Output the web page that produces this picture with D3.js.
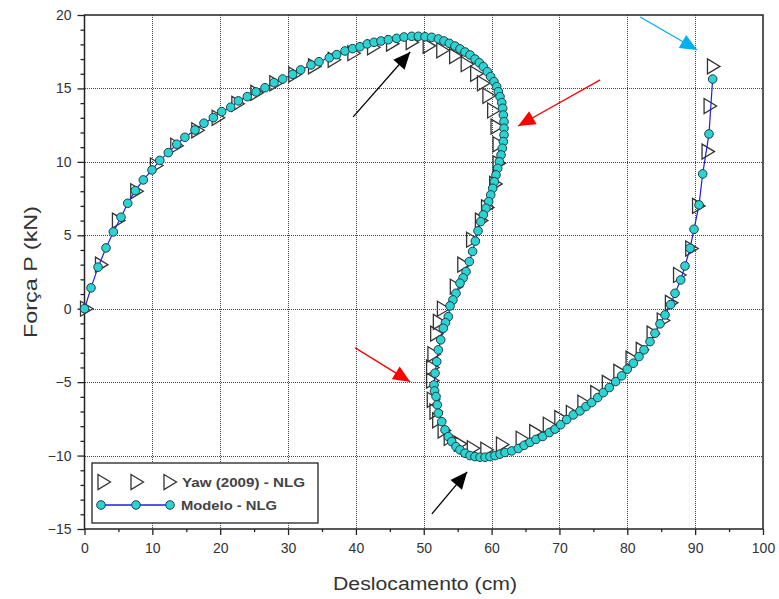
<!DOCTYPE html>
<html>
<head>
<meta charset="utf-8">
<script src="https://cdn.jsdelivr.net/npm/d3@7"></script>
<style>
  body { margin: 0; background: #fff; }
</style>
</head>
<body>
<div id="caja"></div>
<script>
// curva força x deslocamento - Yaw (2009) vs modelo NLG
var xTicks = [0, 10, 20, 30, 40, 50, 60, 70, 80, 90, 100];
var yTicks = [-15, -10, -5, 0, 5, 10, 15, 20];

// Yaw (2009) - NLG  [deslocamento cm, força kN]
var yawX = [0.3, 2.5, 5.0, 7.7, 10.6, 13.6, 16.7, 19.7, 22.6, 25.4, 28.2, 31.0, 33.9, 36.8, 39.7, 42.6, 45.4,
  48.3, 50.8, 52.8, 54.7, 56.4, 57.8, 58.8, 59.6, 60.3, 60.8, 61.1, 61.1, 60.6, 59.4, 58.5, 57.2, 55.9, 54.8, 52.9,
  52.3, 51.9, 51.5, 51.3, 51.3, 51.4, 51.8, 52.2, 53.0, 53.9, 55.4, 57.3, 59.3, 61.6, 64.5, 66.5, 68.5, 70.2, 71.9,
  73.6, 75.5, 77.2, 78.9, 80.7, 82.2, 83.8, 85.3, 86.5, 87.7, 89.5, 90.5, 91.9, 92.2, 92.7];
var yawP = [0, 3.0, 6.0, 8.0, 9.75, 11.1, 12.15, 13.0, 13.95, 14.7, 15.35, 15.95, 16.5, 16.95, 17.4, 17.8, 18.05,
  18.15, 17.9, 17.6, 17.2, 16.65, 16.0, 15.35, 14.5, 13.5, 12.4, 11.2, 9.9, 8.5, 6.9, 6.0, 4.7, 3.0, 1.5, 0.0,
  -0.9, -1.7, -3.1, -4.0, -4.9, -6.2, -7.0, -7.6, -8.3, -8.8, -9.2, -9.5, -9.6, -9.25, -8.85, -8.4, -7.9, -7.45, -7.1,
  -6.4, -5.75, -5.05, -4.3, -3.4, -2.8, -1.7, -0.8, 0.4, 2.3, 4.1, 7.0, 10.7, 13.8, 16.5];

// Modelo - NLG
var modX = [0, 0.96, 2.0, 3.17, 4.25, 5.38, 6.37, 7.49, 8.67, 9.95, 11.1, 12.35, 13.6, 14.8, 16.29, 17.61, 18.99,
  20.22, 21.55, 22.67, 23.99, 25.28, 26.6, 27.93, 29.2, 30.68, 31.86, 33.38, 34.56, 36.08, 37.17, 38.39, 39.52,
  40.6, 41.68, 42.67, 43.7, 44.78, 46.0, 47.1, 48.22, 49.2, 50.18, 51.17, 52.15, 52.98, 53.77, 54.6, 55.34, 56.08,
  56.82, 57.55, 58.19, 58.78, 59.37, 59.86, 60.35, 60.75, 60.99, 61.24, 61.49, 61.63, 61.73, 61.83, 61.83, 61.83,
  61.73, 61.58, 61.39, 61.14, 60.9, 60.65, 60.4, 60.16, 59.87, 59.57, 59.18, 58.78, 58.39, 58.0, 57.6, 57.2, 56.72,
  56.23, 55.8, 55.34, 54.75, 54.3, 53.87, 53.62, 53.2, 52.88, 52.5, 52.15, 51.91, 51.66, 51.51, 51.6, 51.81, 52.0,
  52.15, 52.65, 53.13, 53.62, 54.12, 54.75, 55.34, 56.08, 56.82, 57.55, 58.29, 59.03, 59.76, 60.5, 61.24, 61.98,
  62.96, 63.94, 64.8, 65.66, 66.54, 67.53, 68.51, 69.35, 70.18, 71.07, 72.04, 73.03, 73.91, 74.75, 75.64, 76.46,
  77.35, 78.29, 79.17, 80.0, 80.89, 81.72, 82.46, 83.35, 84.08, 84.82, 85.56, 86.39, 87.03, 87.87, 88.5, 89.25,
  89.83, 90.57, 91.11, 92.04, 92.58];
var modP = [0, 1.42, 2.83, 4.14, 5.23, 6.23, 7.18, 8.04, 8.77, 9.45, 10.1, 10.63, 11.2, 11.67, 12.17, 12.63, 13.01,
  13.42, 13.72, 14.15, 14.44, 14.76, 15.05, 15.39, 15.64, 15.96, 16.26, 16.6, 16.82, 17.09, 17.3, 17.55, 17.71,
  17.84, 18.03, 18.14, 18.23, 18.32, 18.41, 18.5, 18.55, 18.55, 18.52, 18.48, 18.37, 18.23, 18.07, 17.89, 17.69, 17.48,
  17.28, 17.0, 16.75, 16.48, 16.14, 15.8, 15.46, 15.12, 14.78, 14.44, 14.03, 13.65, 13.19, 12.74, 12.29, 11.83,
  11.38, 10.93, 10.47, 10.01, 9.56, 9.11, 8.65, 8.2, 7.75, 7.29, 6.84, 6.39, 5.93, 5.3, 4.6, 3.9, 3.21,
  2.53, 2.1, 1.74, 1.05, 0.6, 0.19, -0.54, -0.95, -1.33, -2.12, -2.8, -3.6, -4.39, -5.19, -5.6, -5.98, -6.55,
  -7.11, -7.69, -8.25, -8.71, -9.05, -9.39, -9.61, -9.84, -10.0, -10.07, -10.11, -10.11, -10.07, -10.0, -9.9, -9.79,
  -9.68, -9.52, -9.3, -9.1, -8.9, -8.7, -8.43, -8.2, -7.9, -7.55, -7.23, -6.96, -6.66, -6.39, -6.05, -5.71,
  -5.37, -4.96, -4.57, -4.12, -3.71, -3.26, -2.8, -2.24, -1.67, -1.03, -0.42, 0.28, 1.05, 1.96, 2.91, 4.12,
  5.41, 7.07, 9.18, 11.9, 15.64];

// setas de anotação (unidades do gráfico)
var setas = [
  {"de": [39.6, 13.06], "para": [48.0, 17.48], "cor": "#000"},
  {"de": [76.0, 15.58], "para": [63.9, 12.44], "cor": "#ff0000"},
  {"de": [39.9, -2.67], "para": [48.0, -4.98], "cor": "#ff0000"},
  {"de": [51.2, -13.97], "para": [56.4, -11.11], "cor": "#000"},
  {"de": [81.9, 19.86], "para": [90.3, 17.62], "cor": "#00b0f0"}
];

var w = 779, h = 599;
var m = {left: 84.5, right: 763, top: 15, bottom: 529};

var svg = d3.select('#caja')
  .append('svg')
  .attr('width', w)
  .attr('height', h)
  .style("background", "#fff");

var x = d3.scaleLinear().domain([0, 100]).range([m.left, m.right]);
var y = d3.scaleLinear().domain([-15, 20]).range([m.bottom, m.top]);
var nx = d => Math.round(x(d)) + 0.5;
var ny = d => Math.round(y(d)) + 0.5;

var fonte = "'Liberation Sans', Arial, sans-serif";

// grade pontilhada
var grade = svg.append("g").attr("shape-rendering", "crispEdges");
grade.selectAll("line.gx")
  .data(xTicks.slice(1, -1))
  .enter().append("line")
  .attr("x1", nx).attr("x2", nx)
  .attr("y1", m.top).attr("y2", m.bottom)
  .attr("stroke", "#444").attr("stroke-width", 1).attr("stroke-dasharray", "1,1");
grade.selectAll("line.gy")
  .data(yTicks.slice(1, -1))
  .enter().append("line")
  .attr("y1", ny).attr("y2", ny)
  .attr("x1", m.left).attr("x2", m.right)
  .attr("stroke", "#444").attr("stroke-width", 1).attr("stroke-dasharray", "1,1");

// eixos
var eixoX = svg.append("g")
  .attr("transform", "translate(0," + m.bottom + ")")
  .call(d3.axisBottom(x).tickValues(xTicks).tickSize(6).tickSizeOuter(0).tickPadding(8));
var eixoXmenor = svg.append("g")
  .attr("transform", "translate(0," + m.bottom + ")")
  .call(d3.axisBottom(x).tickValues(d3.range(5, 100, 10)).tickSize(3).tickSizeOuter(0).tickFormat(""));
var eixoY = svg.append("g")
  .attr("transform", "translate(" + m.left + ",0)")
  .call(d3.axisLeft(y).tickValues(yTicks).tickSize(7).tickSizeOuter(0).tickPadding(6));
var eixoYmenor = svg.append("g")
  .attr("transform", "translate(" + m.left + ",0)")
  .call(d3.axisLeft(y).tickValues(d3.range(-15, 20, 1).filter(v => v % 5 !== 0)).tickSize(4).tickSizeOuter(0).tickFormat(""));

[eixoX, eixoXmenor, eixoY, eixoYmenor].forEach(function(g) {
  g.select(".domain").remove();
  g.selectAll("line").attr("stroke", "#222").attr("stroke-width", 1.3);
  g.selectAll("text").style("font-family", fonte).style("font-size", "14px").attr("fill", "#333");
});

// moldura
svg.append("rect")
  .attr("x", m.left).attr("y", m.top)
  .attr("width", m.right - m.left).attr("height", m.bottom - m.top)
  .attr("fill", "none").attr("stroke", "#222").attr("stroke-width", 1.5);

// titulos
svg.append("text")
  .attr("x", 333).attr("y", 590)
  .attr("textLength", 184).attr("lengthAdjust", "spacingAndGlyphs")
  .style("font-family", fonte).style("font-size", "18px").attr("fill", "#333")
  .text("Deslocamento (cm)");
svg.append("text")
  .attr("transform", "translate(37,338) rotate(-90)")
  .attr("textLength", 132).attr("lengthAdjust", "spacingAndGlyphs")
  .style("font-family", fonte).style("font-size", "18px").attr("fill", "#333")
  .text("Força P (kN)");

// marcador triangulo (aponta para a direita)
var tri = function(cx, cy) {
  return "M" + (cx - 6) + "," + (cy - 7.5) + "L" + (cx + 6.5) + "," + cy + "L" + (cx - 6) + "," + (cy + 7.5) + "Z";
};

var yaw = yawX.map((v, i) => ({x: v, p: yawP[i]}));
var modelo = modX.map((v, i) => ({x: v, p: modP[i]}));

svg.append("g").selectAll("path")
  .data(yaw)
  .enter().append("path")
  .attr("d", d => tri(x(d.x), y(d.p)))
  .attr("fill", "none").attr("stroke", "#333").attr("stroke-width", 1.3);

svg.append("path")
  .datum(modelo)
  .attr("d", d3.line().x(d => x(d.x)).y(d => y(d.p)))
  .attr("fill", "none").attr("stroke", "#2020e0").attr("stroke-width", 1.2);

svg.append("g").selectAll("circle")
  .data(modelo)
  .enter().append("circle")
  .attr("cx", d => x(d.x)).attr("cy", d => y(d.p))
  .attr("r", 4.3)
  .attr("fill", "#2dd3d3").attr("stroke", "#1c3f44").attr("stroke-width", 1);

// setas
var cabeca = function(s) {
  var x0 = x(s.de[0]), y0 = y(s.de[1]), x1 = x(s.para[0]), y1 = y(s.para[1]);
  var a = Math.atan2(y1 - y0, x1 - x0), L = 17, W = 7.5;
  var bx = x1 - L * Math.cos(a), by = y1 - L * Math.sin(a);
  return "M" + x1 + "," + y1 +
    "L" + (bx + W * Math.sin(a)) + "," + (by - W * Math.cos(a)) +
    "L" + (bx - W * Math.sin(a)) + "," + (by + W * Math.cos(a)) + "Z";
};
var gs = svg.append("g");
gs.selectAll("line")
  .data(setas)
  .enter().append("line")
  .attr("x1", d => x(d.de[0])).attr("y1", d => y(d.de[1]))
  .attr("x2", d => x(d.para[0])).attr("y2", d => y(d.para[1]))
  .attr("stroke", d => d.cor).attr("stroke-width", 1.3);
gs.selectAll("path")
  .data(setas)
  .enter().append("path")
  .attr("d", cabeca)
  .attr("fill", d => d.cor);

// legenda
var leg = svg.append("g");
leg.append("rect")
  .attr("x", 92).attr("y", 463).attr("width", 226).attr("height", 60)
  .attr("fill", "#fff").attr("stroke", "#222").attr("stroke-width", 1.3);
[104, 137, 170].forEach(function(cx) {
  leg.append("path").attr("d", tri(cx, 482))
    .attr("fill", "none").attr("stroke", "#333").attr("stroke-width", 1.3);
});
leg.append("line").attr("x1", 101).attr("x2", 170).attr("y1", 505).attr("y2", 505)
  .attr("stroke", "#2020e0").attr("stroke-width", 1.5);
[101, 136, 170].forEach(function(cx) {
  leg.append("circle").attr("cx", cx).attr("cy", 505).attr("r", 4.3)
    .attr("fill", "#2dd3d3").attr("stroke", "#1c3f44").attr("stroke-width", 1);
});
leg.append("text").attr("x", 182).attr("y", 487)
  .attr("textLength", 123).attr("lengthAdjust", "spacingAndGlyphs")
  .style("font-family", fonte).style("font-size", "12.5px").style("font-weight", "bold").attr("fill", "#444")
  .text("Yaw (2009) - NLG");
leg.append("text").attr("x", 181).attr("y", 510)
  .attr("textLength", 96).attr("lengthAdjust", "spacingAndGlyphs")
  .style("font-family", fonte).style("font-size", "12.5px").style("font-weight", "bold").attr("fill", "#444")
  .text("Modelo - NLG");
</script>
</body>
</html>
